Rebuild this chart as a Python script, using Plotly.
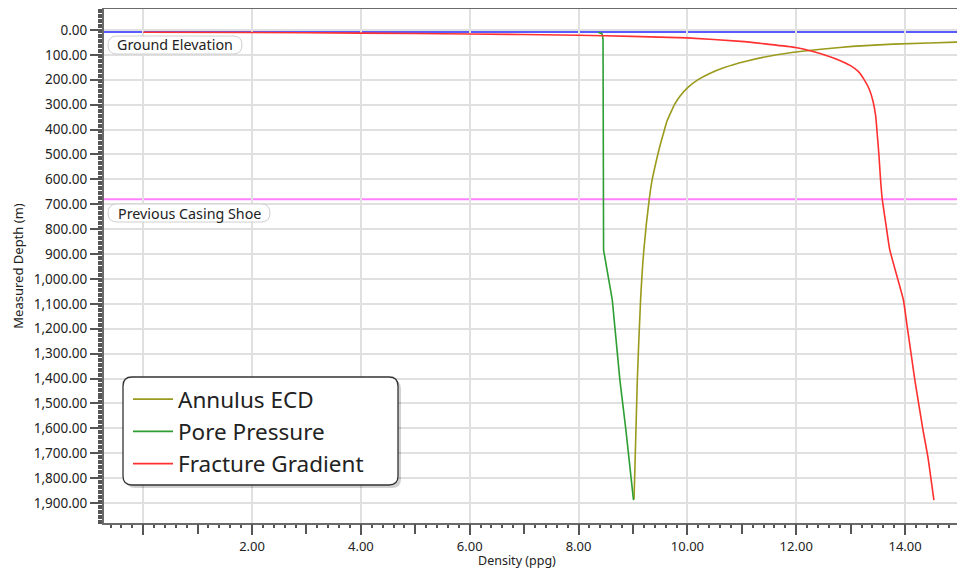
import plotly.graph_objects as go

# ---------------- data ----------------
ecd_depth = [44, 48.2, 57, 70.3, 86.4, 104.4, 126.5, 150.6, 174.7, 200.8, 231, 267.1, 297.2, 329.4, 369.6, 407.7, 449.9, 494.1, 550.3, 602.5, 678.8, 883.7, 1084.6, 1406, 1885]
ecd_ppg = [15.8, 15.10, 13.78, 12.80, 12.07, 11.52, 11.06, 10.68, 10.41, 10.19, 10.01, 9.86, 9.77, 9.70, 9.62, 9.57, 9.515, 9.463, 9.403, 9.352, 9.30, 9.20, 9.14, 9.08, 9.02]

pore_depth = [9, 11, 15, 22, 40, 884, 1084, 1406, 1606, 1888]
pore_ppg = [8.36, 8.40, 8.43, 8.44, 8.45, 8.46, 8.62, 8.76, 8.87, 9.01]

frac_depth = [9.2, 10.4, 12.9, 16.1, 21.3, 26.1, 32.1, 46.2, 70.3, 86.4, 104.4, 122.5, 142.6, 166.7, 196.8, 237.0, 285.2, 345.4, 421.8, 502.1, 602.5, 678.8, 783.3, 883.7, 1084.6, 1177, 1405.9, 1606.7, 1715.2, 1888]
frac_ppg = [0.00, 2.00, 3.98, 5.99, 7.99, 8.98, 9.99, 10.98, 11.99, 12.31, 12.58, 12.80, 12.99, 13.14, 13.24, 13.34, 13.41, 13.46, 13.49, 13.52, 13.55, 13.58, 13.65, 13.72, 13.97, 14.03, 14.18, 14.33, 14.42, 14.53]

ground_depth = 8
casing_shoe_depth = 680

x_tick_vals = [0, 2, 4, 6, 8, 10, 12, 14]
x_tick_text = ["", "2.00", "4.00", "6.00", "8.00", "10.00", "12.00", "14.00"]

# ---------------- figure ----------------
FONT = "Noto Sans, Open Sans, sans-serif"
# the page body has an 8px margin; the plot area sits at page px 104.. (past the right edge) x 9..523
W, H = 965, 560
ML, MR, MT, MB = 96, 0, 1, 45
PW, PH = W - ML - MR, H - MT - MB
PL, PT = 104, 9          # plot-area origin in page pixels
X_MIN, X_MAX = -0.72, -0.72 + PW / 54.42

def px2paper(x, y):
    return (x - PL) / PW, (PT + PH - y) / PH

fig = go.Figure()
fig.add_trace(go.Scatter(x=ecd_ppg, y=ecd_depth, mode="lines", name="Annulus ECD", legendgroup="a",
                         line=dict(color="#9a9a1c", width=1.6, shape="spline", smoothing=0.6)))
fig.add_trace(go.Scatter(x=pore_ppg, y=pore_depth, mode="lines", name="Pore Pressure", legendgroup="b",
                         line=dict(color="#2e9e32", width=1.6)))
fig.add_trace(go.Scatter(x=frac_ppg, y=frac_depth, mode="lines", name="Fracture Gradient", legendgroup="c",
                         line=dict(color="#ff3030", width=1.6, shape="spline", smoothing=0.4)))

# reference lines
fig.add_shape(type="line", xref="paper", x0=0, x1=1, yref="y", y0=ground_depth, y1=ground_depth,
              line=dict(color="#5a5aff", width=2), layer="between")
fig.add_shape(type="line", xref="paper", x0=0, x1=1, yref="y", y0=casing_shoe_depth, y1=casing_shoe_depth,
              line=dict(color="#ff80ff", width=2), layer="between")

def rounded(x0, y0, x1, y1, r):
    ax0, ay1 = px2paper(x0, y0)
    ax1, ay0 = px2paper(x1, y1)
    rx, ry = r / PW, r / PH
    return (f"M {ax0+rx},{ay1} L {ax1-rx},{ay1} Q {ax1},{ay1} {ax1},{ay1-ry} "
            f"L {ax1},{ay0+ry} Q {ax1},{ay0} {ax1-rx},{ay0} L {ax0+rx},{ay0} "
            f"Q {ax0},{ay0} {ax0},{ay0+ry} L {ax0},{ay1-ry} Q {ax0},{ay1} {ax0+rx},{ay1} Z")

# label boxes for the reference lines
for txt, box in [("Ground Elevation", (108, 36, 242, 54)), ("Previous Casing Shoe", (108, 204, 270, 222))]:
    fig.add_shape(type="path", xref="paper", yref="paper", path=rounded(*box, 9),
                  fillcolor="white", line=dict(color="#d0d0d0", width=1), layer="above")
    cx, cy = px2paper((box[0] + box[2]) / 2, (box[1] + box[3]) / 2)
    fig.add_annotation(text=txt, xref="paper", yref="paper", x=cx, y=cy, xanchor="center", yanchor="middle",
                       showarrow=False, font=dict(family=FONT, size=14.3, color="#222"))

# legend box (rounded, with shadow)
fig.add_shape(type="path", xref="paper", yref="paper", path=rounded(126, 380, 401, 488, 9),
              fillcolor="rgba(0,0,0,0.18)", line=dict(width=0), layer="above")
fig.add_shape(type="path", xref="paper", yref="paper", path=rounded(123, 377, 398, 485, 9),
              fillcolor="white", line=dict(color="#333", width=1.3), layer="above")

# x-axis title
tx, ty = px2paper(517, 560)
fig.add_annotation(text="Density (ppg)", xref="paper", yref="paper", x=tx, y=ty, xanchor="center",
                   yanchor="middle", showarrow=False, font=dict(family=FONT, size=12.5, color="#222"))

lx, ly = px2paper(128, 378)
fig.update_layout(
    width=W, height=H,
    margin=dict(l=ML, r=MR, t=MT, b=MB),
    paper_bgcolor="white", plot_bgcolor="white",
    font=dict(family=FONT, color="#222"),
    showlegend=True,
    legend=dict(x=lx, y=ly, xanchor="left", yanchor="top", bgcolor="rgba(0,0,0,0)",
                font=dict(family=FONT, size=22.5, color="#222"), tracegroupgap=0, traceorder="grouped",
                itemwidth=40),
    xaxis=dict(range=[X_MIN, X_MAX], tickvals=x_tick_vals, ticktext=x_tick_text,
               showgrid=True, gridcolor="#e0e0e0", gridwidth=2,
               ticks="outside", ticklen=10, tickwidth=1.5, tickcolor="#555",
               minor=dict(dtick=0.2, tick0=0, ticks="outside", ticklen=3, tickcolor="#555", showgrid=False),
               showline=True, linecolor="#6a6a6a", linewidth=2, mirror=True,
               tickfont=dict(family=FONT, size=13, color="#222"),
               zeroline=False),
    xaxis2=dict(overlaying="x", matches="x", side="bottom", anchor="y", tick0=0, dtick=1,
                ticks="outside", ticklen=10, tickwidth=1.5, tickcolor="#555",
                showticklabels=False, showgrid=False, showline=False, zeroline=False),
    yaxis=dict(range=[1980, -84], tick0=0, dtick=100, tickformat=",.2f",
               showgrid=True, gridcolor="#e0e0e0", gridwidth=2,
               ticks="outside", ticklen=12, tickwidth=1.5, tickcolor="#555",
               minor=dict(dtick=10, tick0=0, ticks="outside", ticklen=4, tickcolor="#555", showgrid=False),
               showline=True, linecolor="#6a6a6a", linewidth=2, mirror=False,
               tickfont=dict(family=FONT, size=13.5, color="#222"),
               title=dict(text="Measured Depth (m)", font=dict(family=FONT, size=13, color="#222"), standoff=7),
               zeroline=False),
)
fig.add_trace(go.Scatter(x=[None], y=[None], xaxis="x2", showlegend=False, hoverinfo="skip"))

fig.write_html("out.html")
